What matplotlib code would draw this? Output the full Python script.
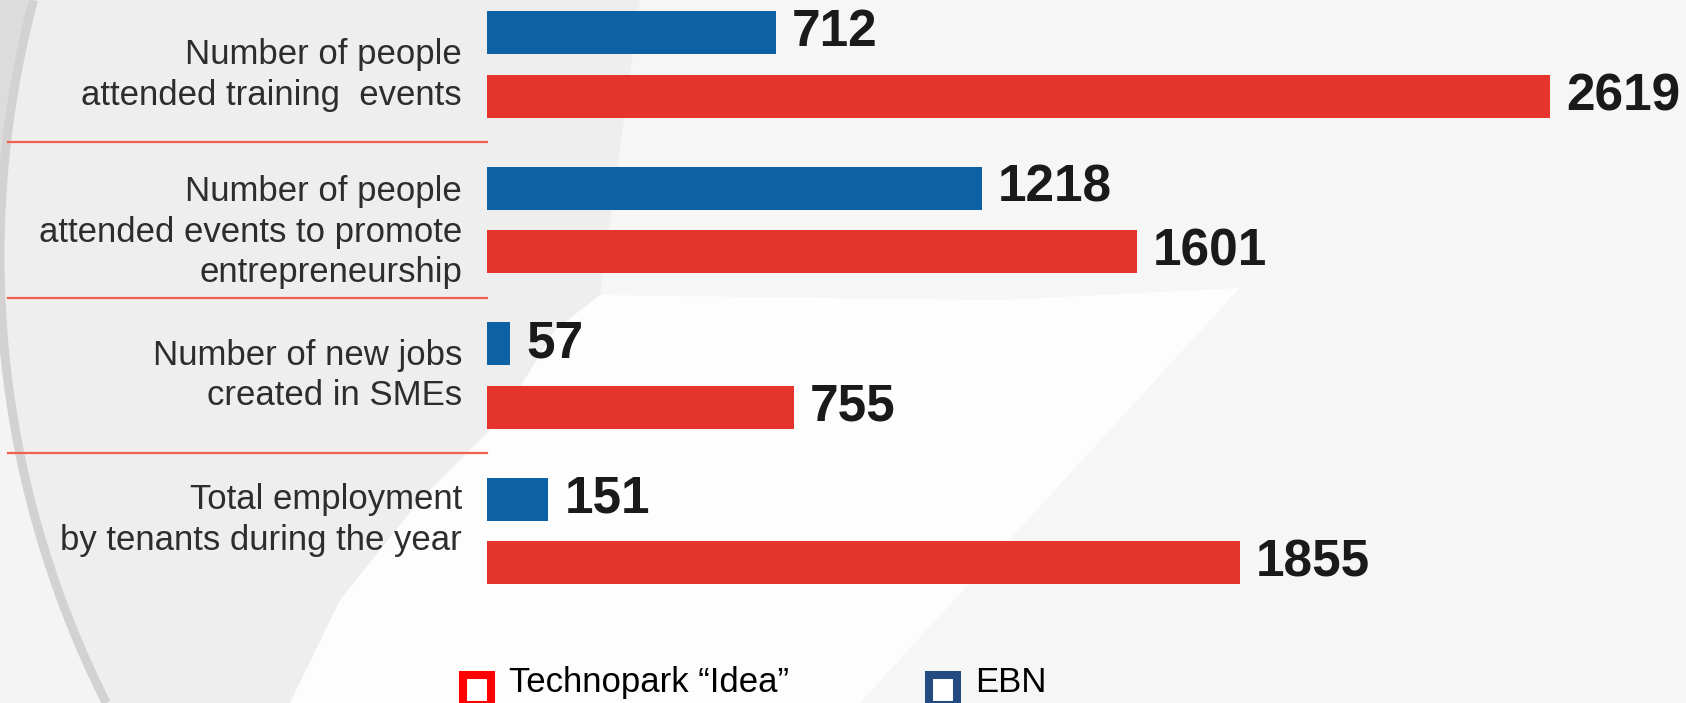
import matplotlib
matplotlib.use("Agg")
import matplotlib.pyplot as plt
from matplotlib import font_manager
from matplotlib.patches import Polygon, Rectangle
from matplotlib.transforms import blended_transform_factory
import numpy as np

# data
categories = [
    "Number of people\nattended training  events",
    "Number of people\nattended events to promote\nentrepreneurship",
    "Number of new jobs\ncreated in SMEs",
    "Total employment\nby tenants during the year",
]
ebn = [712, 1218, 57, 151]
technopark = [2619, 1601, 755, 1855]
series_names = ["Technopark \u201cIdea\u201d", "EBN"]

BLUE = "#0e62a3"
RED = "#e4342c"
LEG_RED = "#ff0000"
LEG_BLUE = "#234b82"
SEP = "#f0604f"

plt.rcParams["font.family"] = ["Liberation Sans", "DejaVu Sans"]

# legend in the reference uses a narrow face; use it if it is there
legend_family = ["Liberation Sans"]
try:
    font_manager.findfont("Liberation Sans Narrow", fallback_to_default=False)
    legend_family = ["Liberation Sans Narrow", "Liberation Sans"]
    legend_size = 28.5
except ValueError:
    legend_size = 25

W, H = 1686, 703
fig = plt.figure(figsize=(W / 100, H / 100), dpi=100)
fig.patch.set_facecolor("#f6f6f6")

# background decoration, pixel coordinates
bg = fig.add_axes([0, 0, 1, 1], zorder=0)
bg.set_xlim(0, W)
bg.set_ylim(H, 0)
bg.axis("off")

yy = np.linspace(0, H, 120)
arc_x = 993 - np.sqrt(993 ** 2 - (yy - 256) ** 2)
top = yy <= 256
bg.add_patch(Polygon([(0, 0)] + list(zip(arc_x[top], yy[top])), closed=True,
                     fc="#dcdcdc", ec="none"))
bg.add_patch(Polygon([(0, 256)] + list(zip(arc_x[~top], yy[~top])) + [(0, H)],
                     closed=True, fc="#f4f4f4", ec="none"))
gray_edge = [(290, 703), (340, 600), (420, 500), (500, 420), (555, 330),
             (600, 295), (640, 0)]
bg.add_patch(Polygon(list(zip(arc_x, yy)) + gray_edge, closed=True,
                     fc="#eeeeee", ec="none"))
bg.add_patch(Polygon([(1240, 288), (1000, 300), (600, 295), (555, 330),
                      (500, 420), (420, 500), (340, 600), (290, 703),
                      (860, 703)], closed=True, fc="#fdfdfd", ec="none"))
bg.plot(arc_x, yy, color="#d2d2d2", lw=6.5, solid_capstyle="butt")

# bars
ax = fig.add_axes([487 / W, 0, (W - 487) / W, 1], zorder=1)
ax.patch.set_alpha(0)
ax.axis("off")
px_per_unit = 0.406
ax.set_xlim(0, (W - 487) / px_per_unit)
pitch, y0 = 155.4, 64.75
ax.set_ylim((H - y0) / pitch, -y0 / pitch)

y = np.arange(len(categories))
off, h = 0.2045, 0.277
ax.barh(y - off, ebn, height=h, color=BLUE)
ax.barh(y + off, technopark, height=h, color=RED)

for yi, v in zip(y - off, ebn):
    ax.annotate(str(v), (v, yi), xytext=(11.5, 0), textcoords="offset points",
                ha="left", va="center", fontsize=37, fontweight="bold",
                color="#1a1a1a", annotation_clip=False)
for yi, v in zip(y + off, technopark):
    ax.annotate(str(v), (v, yi), xytext=(11.5, 0), textcoords="offset points",
                ha="left", va="center", fontsize=37, fontweight="bold",
                color="#1a1a1a", annotation_clip=False)

tr = blended_transform_factory(bg.transData, ax.transData)
label_dy = [10, 12, 0, -11]  # px, labels sit a little off the pair centre
for yi, lab, dy in zip(y, categories, label_dy):
    ax.text(462, yi + dy / pitch, lab, transform=tr, ha="right", va="center",
            multialignment="right", fontsize=25, linespacing=1.3,
            color="#2d2d2d")
for s in y[:-1] + 0.5:
    ax.plot([8, 487], [s, s], transform=tr, color=SEP, lw=1.6, clip_on=False)

# legend
for x0, col, name in [(459, LEG_RED, series_names[0]), (925, LEG_BLUE, series_names[1])]:
    bg.add_patch(Rectangle((x0 + 4, 675), 28, 30, fc="white", ec=col,
                           lw=5.8, joinstyle="miter"))
    bg.text(x0 + 50, 692, name, ha="left", va="baseline", fontsize=legend_size,
            color="black", family=legend_family)

fig.savefig("out.png", dpi=100, facecolor=fig.get_facecolor())
